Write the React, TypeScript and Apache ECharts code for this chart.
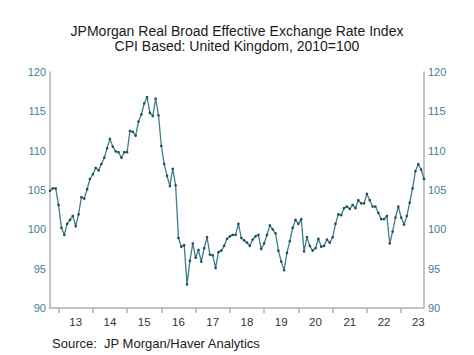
import React, { useEffect, useRef } from "react";
import * as echarts from "echarts";

// Monthly values, Oct 2012 .. Sep 2023
const v2012 = [104.9, 105.2, 105.2]; // Oct-Dec
const v2013 = [103.1, 100.2, 99.3, 100.7, 101.2, 101.7, 100.4, 101.9, 104.1, 103.9, 105.1, 106.4];
const v2014 = [107.0, 107.8, 107.5, 108.3, 109.1, 110.3, 111.5, 110.5, 109.9, 109.8, 109.1, 109.8];
const v2015 = [109.8, 112.5, 112.4, 111.9, 113.7, 114.6, 116.0, 116.8, 114.8, 114.4, 116.6, 114.5];
const v2016 = [110.6, 108.3, 106.8, 105.5, 107.7, 105.6, 98.9, 97.8, 98.0, 93.0, 96.0, 98.2];
const v2017 = [96.4, 97.4, 95.9, 97.6, 99.0, 96.8, 96.7, 95.1, 97.1, 97.3, 97.9, 98.8];
const v2018 = [99.1, 99.3, 99.3, 100.7, 98.9, 98.6, 98.3, 97.9, 98.7, 99.1, 99.3, 97.5];
const v2019 = [98.2, 99.3, 100.5, 100.0, 99.5, 97.3, 95.9, 94.8, 97.0, 98.5, 100.2, 101.2];
const v2020 = [100.7, 101.3, 97.2, 99.0, 97.9, 97.3, 97.6, 98.8, 97.8, 97.9, 98.7, 98.3];
const v2021 = [99.0, 100.7, 101.9, 101.8, 102.7, 102.9, 102.6, 103.1, 102.7, 103.7, 103.3, 103.3];
const v2022 = [104.5, 103.7, 102.9, 102.9, 102.1, 101.3, 101.3, 101.7, 98.2, 99.7, 101.5, 102.9];
const v2023 = [101.5, 100.6, 101.7, 103.4, 105.2, 107.4, 108.3, 107.6, 106.4]; // Jan-Sep

const yearBlocks: [number, number, number[]][] = [
  [2012, 10, v2012],
  [2013, 1, v2013],
  [2014, 1, v2014],
  [2015, 1, v2015],
  [2016, 1, v2016],
  [2017, 1, v2017],
  [2018, 1, v2018],
  [2019, 1, v2019],
  [2020, 1, v2020],
  [2021, 1, v2021],
  [2022, 1, v2022],
  [2023, 1, v2023],
];

const yTicks = [90, 95, 100, 105, 110, 115, 120];

const TITLE = "JPMorgan Real Broad Effective Exchange Rate Index\nCPI Based: United Kingdom, 2010=100";
const SOURCE = "Source:  JP Morgan/Haver Analytics";

export default function App() {
  const ref = useRef<HTMLDivElement>(null);
  useEffect(() => {
    if (!ref.current) return;
    const chart = echarts.init(ref.current, undefined, { renderer: "svg" });
    const categories: string[] = [];
    const values: number[] = [];
    yearBlocks.forEach(([y, m0, arr]) => {
      arr.forEach((v, i) => {
        const m = m0 + i;
        categories.push(`${y}-${m < 10 ? "0" + m : m}`);
        values.push(v);
      });
    });
    const monthOf = (i: number) => parseInt(categories[i].slice(5), 10);
    const font = "'Liberation Sans', Arial, sans-serif";
    const yLabelColor = "#3f8192";
    const axisGray = "#b0b0b0";
    const yAxisCommon = {
      type: "value" as const,
      min: yTicks[0],
      max: yTicks[yTicks.length - 1],
      interval: 5,
      splitLine: { show: false },
      axisTick: { show: false },
      axisLine: { show: true, lineStyle: { color: axisGray, width: 1.5 } },
      axisLabel: { color: yLabelColor, fontSize: 11, fontFamily: font, margin: 4 },
    };
    chart.setOption({
      animation: false,
      backgroundColor: "#ffffff",
      title: {
        text: TITLE,
        left: "center",
        top: 18,
        textStyle: {
          fontSize: 14,
          fontWeight: "normal",
          color: "#1a1a1a",
          fontFamily: font,
          lineHeight: 15,
        },
      },
      graphic: [
        {
          type: "text",
          left: 52,
          top: 337,
          style: { text: SOURCE, fontSize: 13, fill: "#1a1a1a", fontFamily: font },
        },
      ],
      grid: { left: 50, right: 50, top: 72, bottom: 47 },
      xAxis: {
        type: "category",
        data: categories,
        boundaryGap: false,
        axisLine: { show: true, lineStyle: { color: axisGray, width: 1.5 } },
        axisTick: {
          show: true,
          length: 5,
          interval: (i: number) => monthOf(i) === 1,
          lineStyle: { color: axisGray, width: 1.5 },
        },
        axisLabel: {
          interval: (i: number) => monthOf(i) === 7,
          formatter: (val: string) => val.slice(2, 4),
          color: "#333333",
          fontSize: 11.5,
          fontFamily: font,
          margin: 8,
        },
        splitLine: { show: false },
      },
      yAxis: [
        { ...yAxisCommon, position: "left" },
        { ...yAxisCommon, position: "right" },
      ],
      series: [
        {
          type: "line",
          data: values,
          yAxisIndex: 0,
          symbol: "circle",
          symbolSize: 2.6,
          showSymbol: true,
          showAllSymbol: true,
          lineStyle: { color: "#3b7e89", width: 1.3 },
          itemStyle: { color: "#1f4b52" },
        },
      ],
    });
    return () => chart.dispose();
  }, []);
  return (
    <div
      ref={ref}
      style={{ position: "fixed", left: 0, top: 0, width: 474, height: 355 }}
    />
  );
}
